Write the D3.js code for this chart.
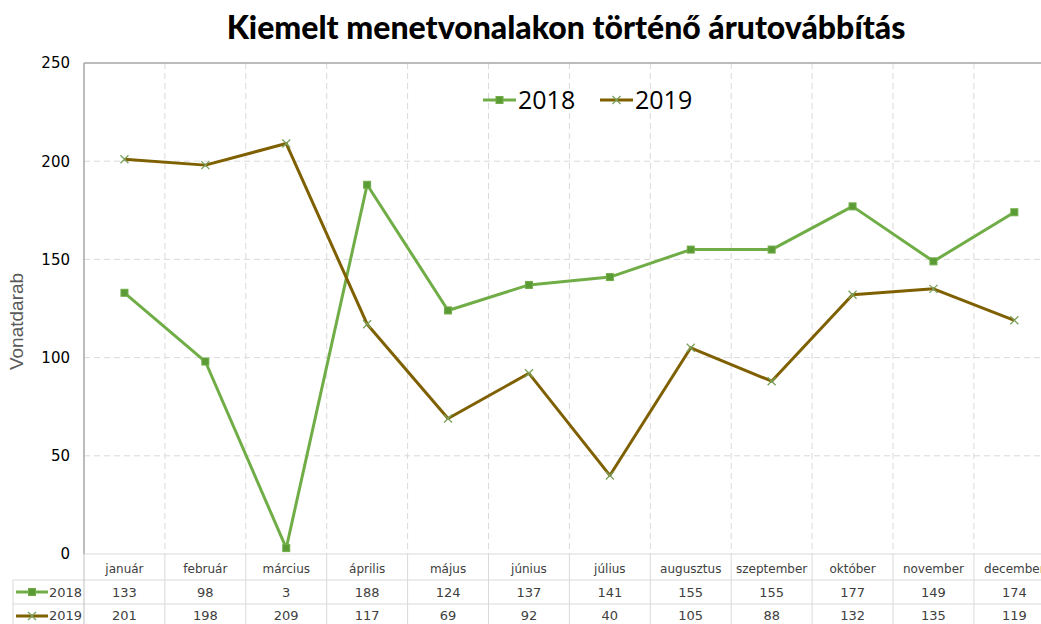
<!DOCTYPE html>
<html>
<head>
<meta charset="utf-8">
<script src="https://cdn.jsdelivr.net/npm/d3@7"></script>
<style>
  body { margin: 0; background: #fff; }
  svg { display: block; font-family: "Open Sans", sans-serif; }
</style>
</head>
<body>
<svg id="chart" width="1041" height="624"></svg>
<script>
// data
const months = ["január", "február", "március", "április", "május", "június",
  "július", "augusztus", "szeptember", "október", "november", "december"];
const years = ["2018", "2019"];
const values2018 = [133, 98, 3, 188, 124, 137, 141, 155, 155, 177, 149, 174];
const values2019 = [201, 198, 209, 117, 69, 92, 40, 105, 88, 132, 135, 119];
const yTicks = [0, 50, 100, 150, 200, 250];

const colors = { "2018": "#70ad47", "2019": "#7f6000" };
const series = [
  { name: "2018", values: values2018 },
  { name: "2019", values: values2019 }
];

const svg = d3.select("#chart");
const plotLeft = 84, plotTop = 63, plotBottom = 554, step = 80.9;
const plotRight = plotLeft + step * months.length;

const x = d3.scaleBand().domain(months).range([plotLeft, plotRight]);
const y = d3.scaleLinear().domain([0, 250]).range([plotBottom, plotTop]);

// title
svg.append("text")
  .attr("x", 566).attr("y", 39)
  .attr("text-anchor", "middle")
  .style("font-family", "Lato, sans-serif")
  .style("font-weight", "900")
  .style("font-size", "32px")
  .text("Kiemelt menetvonalakon történő árutovábbítás");

// grid
const grid = svg.append("g").attr("stroke", "#d9d9d9").attr("stroke-dasharray", "6,4");
grid.selectAll(".h").data(yTicks.filter(d => d > 0 && d < 250)).join("line")
  .attr("x1", plotLeft).attr("x2", plotRight)
  .attr("y1", d => y(d)).attr("y2", d => y(d));
grid.selectAll(".v").data(months.slice(1)).join("line")
  .attr("x1", d => x(d)).attr("x2", d => x(d))
  .attr("y1", plotTop).attr("y2", plotBottom);

// frame
svg.append("line").attr("x1", plotLeft).attr("x2", plotRight).attr("y1", plotTop).attr("y2", plotTop)
  .attr("stroke", "#a6a6a6").attr("stroke-width", 1.5);
svg.append("line").attr("x1", plotLeft).attr("x2", plotLeft).attr("y1", plotTop).attr("y2", plotBottom)
  .attr("stroke", "#a6a6a6").attr("stroke-width", 1.5);

// y axis
const yAxis = svg.append("g")
  .attr("transform", `translate(${plotLeft - 14},0)`)
  .call(d3.axisLeft(y).tickValues(yTicks).tickSize(0).tickPadding(0));
yAxis.select(".domain").remove();
yAxis.selectAll("text")
  .style("font-family", "'DejaVu Sans', sans-serif")
  .style("font-size", "15px").attr("fill", "#000");

svg.append("text")
  .attr("transform", `translate(23,${(plotTop + plotBottom) / 2 + 13}) rotate(-90)`)
  .attr("text-anchor", "middle")
  .style("font-family", "'Liberation Sans', sans-serif")
  .style("font-size", "19px").attr("fill", "#595959")
  .text("Vonatdarab");

// lines
const line = d3.line().x((d, i) => x(months[i]) + x.bandwidth() / 2).y(d => y(d));
series.forEach(s => {
  svg.append("path").datum(s.values)
    .attr("d", line).attr("fill", "none")
    .attr("stroke", colors[s.name]).attr("stroke-width", 3)
    .attr("stroke-linejoin", "round");
});

function drawMarker(g, name, cx, cy) {
  if (name === "2018") {
    g.append("rect").attr("x", cx - 3.5).attr("y", cy - 3.5).attr("width", 7).attr("height", 7)
      .attr("fill", "#5b9b35").attr("stroke", "#70ad47").attr("stroke-width", 1);
  } else {
    g.append("path")
      .attr("d", `M${cx - 4},${cy - 4}L${cx + 4},${cy + 4}M${cx - 4},${cy + 4}L${cx + 4},${cy - 4}`)
      .attr("stroke", "#7aa05a").attr("stroke-width", 1.3);
  }
}

const markers = svg.append("g");
series.forEach(s => {
  s.values.forEach((v, i) => drawMarker(markers, s.name, x(months[i]) + x.bandwidth() / 2, y(v)));
});

// legend
const legend = svg.append("g");
[{ name: "2018", x: 483 }, { name: "2019", x: 600 }].forEach(l => {
  legend.append("line").attr("x1", l.x).attr("x2", l.x + 33).attr("y1", 100).attr("y2", 100)
    .attr("stroke", colors[l.name]).attr("stroke-width", 3);
  drawMarker(legend, l.name, l.x + 16.5, 100);
  legend.append("text").attr("x", l.x + 35).attr("y", 109)
    .style("font-family", "'Open Sans', sans-serif")
    .style("font-size", "25px").attr("fill", "#000").text(l.name);
});

// data table
const tbl = svg.append("g").attr("stroke", "#d9d9d9").attr("stroke-width", 1);
const rowTop = plotBottom, r1 = 580, r2 = 604, r3 = 628, tblLeft = 13;
tbl.append("line").attr("x1", plotLeft).attr("x2", plotRight).attr("y1", rowTop).attr("y2", rowTop);
[r1, r2].forEach(yy => tbl.append("line").attr("x1", tblLeft).attr("x2", plotRight).attr("y1", yy).attr("y2", yy));
tbl.append("line").attr("x1", tblLeft).attr("x2", tblLeft).attr("y1", r1).attr("y2", r3);
tbl.append("line").attr("x1", plotLeft).attr("x2", plotLeft).attr("y1", rowTop).attr("y2", r3).attr("stroke", "#bfbfbf");
tbl.selectAll(".vb").data(months.slice(1)).join("line")
  .attr("x1", d => x(d)).attr("x2", d => x(d)).attr("y1", rowTop).attr("y2", r3);

const tt = svg.append("g")
  .style("font-family", "'DejaVu Sans', sans-serif")
  .attr("fill", "#404040").attr("text-anchor", "middle");
tt.selectAll(".m").data(months).join("text")
  .attr("x", d => x(d) + x.bandwidth() / 2).attr("y", 573)
  .style("font-size", "12px").text(d => d);
series.forEach((s, si) => {
  const yy = si === 0 ? 597 : 620;
  tt.selectAll(".v" + si).data(s.values).join("text")
    .attr("x", (d, i) => x(months[i]) + x.bandwidth() / 2).attr("y", yy)
    .style("font-size", "13px").text(d => d);
  const ly = si === 0 ? 592 : 616;
  svg.append("line").attr("x1", 16).attr("x2", 48).attr("y1", ly).attr("y2", ly)
    .attr("stroke", colors[s.name]).attr("stroke-width", 3);
  drawMarker(svg, s.name, 32, ly);
  svg.append("text").attr("x", 49).attr("y", yy)
    .style("font-family", "'DejaVu Sans', sans-serif")
    .style("font-size", "13px").attr("fill", "#404040").text(s.name);
});
</script>
</body>
</html>
